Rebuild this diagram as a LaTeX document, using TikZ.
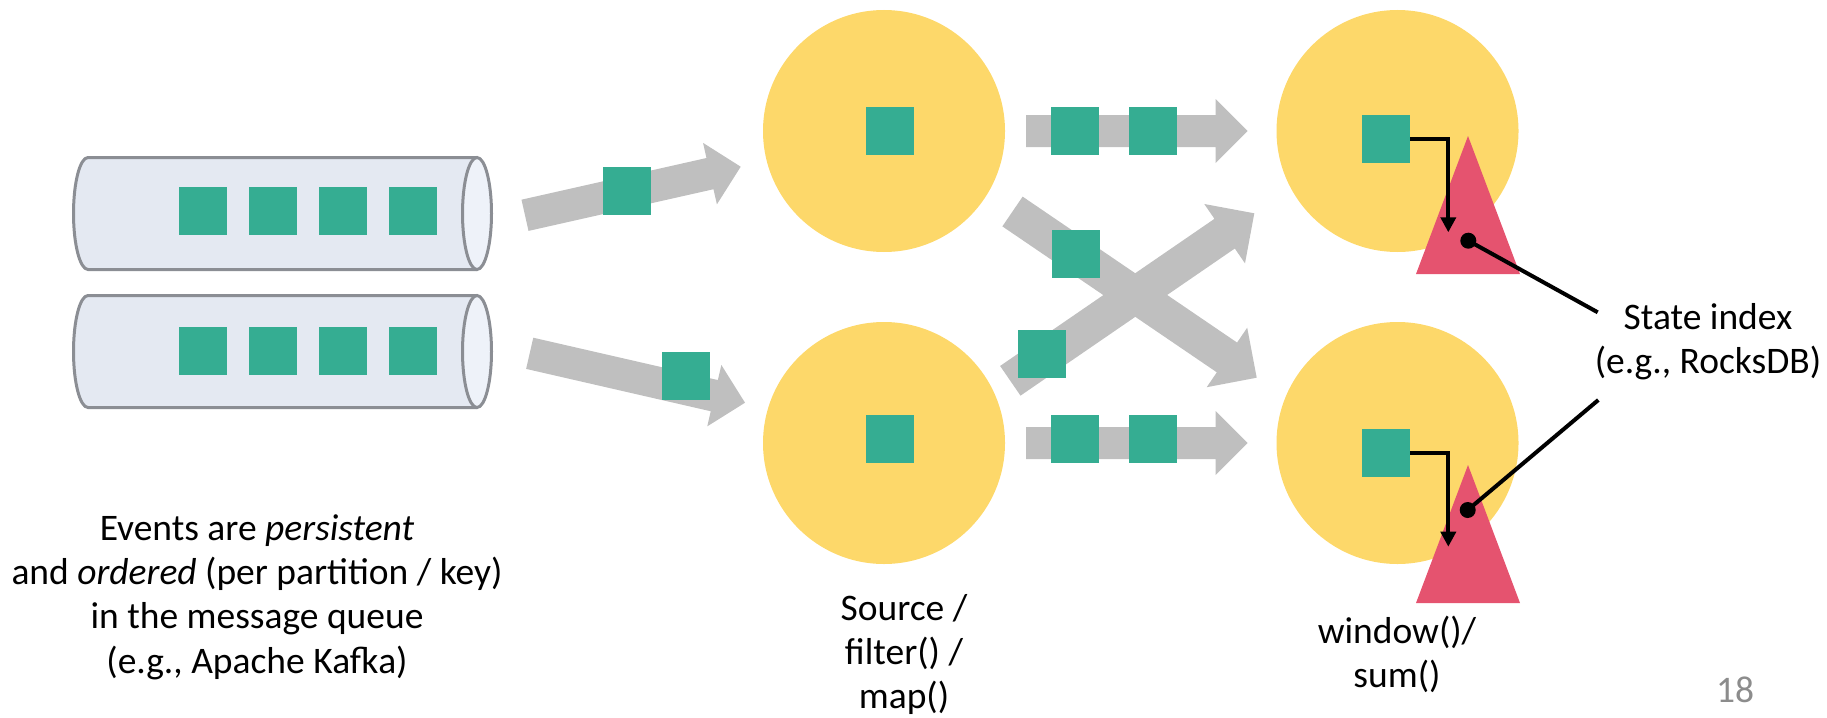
\documentclass[tikz,border=0pt]{standalone}
\usepackage{fontspec}
\setmainfont{Carlito}
\usetikzlibrary{calc,arrows.meta}
\definecolor{circyellow}{HTML}{FDD86A}
\definecolor{sqgreen}{HTML}{35AD92}
\definecolor{arrowgray}{HTML}{BFBFBF}
\definecolor{trired}{HTML}{E5536F}
\definecolor{cylfill}{HTML}{E4E9F2}
\definecolor{capfill}{HTML}{EEF2F9}
\definecolor{cylline}{HTML}{8B8E94}
\definecolor{pagegray}{HTML}{8C8C8C}
% fat arrow: #1 tail, #2 tip, #3 half shaft width, #4 half head width, #5 head length
\newcommand\fatarrow[5]{%
  \coordinate (#1-#2-h) at ($(#2)!#5!(#1)$);
  \fill[arrowgray] ($(#1)!#3!90:(#2)$) -- ($(#1-#2-h)!#3!-90:(#1)$) -- ($(#1-#2-h)!#4!-90:(#1)$) -- (#2)
    -- ($(#1-#2-h)!#4!90:(#1)$) -- ($(#1-#2-h)!#3!90:(#1)$) -- ($(#1)!#3!-90:(#2)$) -- cycle;}
\newcommand\lblstrut{\rule{0pt}{30pt}}
\newcommand\queuecyl[3]{% top, bottom, centre y
  \fill[cylfill] (88,#1) rectangle (477,#2);
  \fill[cylfill] (88,#3) ellipse [x radius=14.5pt, y radius=56pt];
  \draw[cylline, line width=3pt] (477,#1) -- (88,#1) arc[start angle=90, end angle=270, x radius=14.5pt, y radius=56pt] -- (477,#2);
  \draw[cylline, line width=3pt, fill=capfill] (477,#3) ellipse [x radius=14.5pt, y radius=56pt];}
\begin{document}
\begin{tikzpicture}[x=1pt,y=-1pt,
  sq/.style={rectangle, fill=sqgreen, minimum size=48pt, inner sep=0pt},
  op/.style={circle, fill=circyellow, minimum size=242pt, inner sep=0pt},
  lbl/.style={font=\fontsize{37.5}{44.3}\selectfont, align=center, inner sep=0pt, anchor=north},
  link/.style={line width=4pt, line cap=butt},
]
\useasboundingbox (0,0) rectangle (1827,717);

% message queues
\queuecyl{157.5}{269.5}{213.5}
\queuecyl{295.5}{407.5}{351.5}
\foreach \i/\x in {1/203,2/273,3/343,4/413}{
  \node[sq] (qa\i) at (\x,211) {};
  \node[sq] (qb\i) at (\x,351) {};
}

% operator circles
\node[op] (srcA) at (884,131) {};
\node[op] (srcB) at (884,443) {};
\node[op] (winA) at (1397.5,131) {};
\node[op] (winB) at (1397.5,443) {};

% fat arrows
\coordinate (a1t) at (525,215.3);   \coordinate (a1h) at (740.7,166.7);
\coordinate (a2t) at (529.7,353.3); \coordinate (a2h) at (745,402.7);
\coordinate (a3t) at (1026,131);    \coordinate (a3h) at (1247.7,131);
\coordinate (a4t) at (1026,443);    \coordinate (a4h) at (1247.7,443);
\coordinate (a5t) at (1012.5,211.5);\coordinate (a5h) at (1256.7,377.7);
\coordinate (a6t) at (1010.3,380.8);\coordinate (a6h) at (1254.3,213.3);
\fatarrow{a1t}{a1h}{16pt}{31.5pt}{31.5pt}
\fatarrow{a2t}{a2h}{16pt}{31.5pt}{31.5pt}
\fatarrow{a3t}{a3h}{16pt}{32pt}{32pt}
\fatarrow{a4t}{a4h}{16pt}{32pt}{32pt}
\fatarrow{a5t}{a5h}{18pt}{36pt}{36pt}
\fatarrow{a6t}{a6h}{18pt}{36pt}{36pt}

% events in flight
\node[sq] (e1) at (627,191) {};
\node[sq] (e2) at (686,376) {};
\node[sq] (e3) at (890,131) {};
\node[sq] (e4) at (890,439) {};
\node[sq] (e5) at (1075,131) {};
\node[sq] (e6) at (1153,131) {};
\node[sq] (e7) at (1075,439) {};
\node[sq] (e8) at (1153,439) {};
\node[sq] (e9) at (1076,254) {};
\node[sq] (e10) at (1042,354) {};
\node[sq] (e11) at (1386,139) {};
\node[sq] (e12) at (1386,453) {};

% state indexes
\coordinate (stA1) at (1468,136); \coordinate (stA2) at (1520,274); \coordinate (stA3) at (1416,274);
\coordinate (stB1) at (1468,465); \coordinate (stB2) at (1520,603); \coordinate (stB3) at (1416,603);
\fill[trired] (stA1) -- (stA2) -- (stA3) -- cycle;
\fill[trired] (stB1) -- (stB2) -- (stB3) -- cycle;

\coordinate (tipA) at (1448.3,232.3);
\coordinate (tipB) at (1448.3,546.7);
\draw[link, -{Triangle[width=15pt,length=15pt]}] (e11.east) -| (tipA);
\draw[link, -{Triangle[width=15pt,length=15pt]}] (e12.east) -| (tipB);

\coordinate (dotA) at (1468.3,240.7);
\coordinate (dotB) at (1467.7,510);
\coordinate (lnA) at (1597.7,312.3);
\coordinate (lnB) at (1598.3,400);
\draw[link] (dotA) -- (lnA);
\draw[link] (dotB) -- (lnB);
\fill (dotA) circle (8pt);
\fill (dotB) circle (8pt);

% labels
\node[lbl] (txtq) at (257,510) {\lblstrut Events are \textit{persistent}\\ and \textit{ordered} (per partition / key)\\ in the message queue\\ (e.g., Apache Kafka)};
\node[lbl] (txtsrc) at (904,590) {\lblstrut Source /\\ filter() /\\ map()};
\node[lbl] (txtwin) at (1397,613) {\lblstrut window()/\\ sum()};
\node[lbl] (txtstate) at (1708,299.3) {\lblstrut State index\\ (e.g., RocksDB)};
\node[lbl, text=pagegray] (pagenum) at (1735,672.7) {\lblstrut 18};
\end{tikzpicture}
\end{document}
